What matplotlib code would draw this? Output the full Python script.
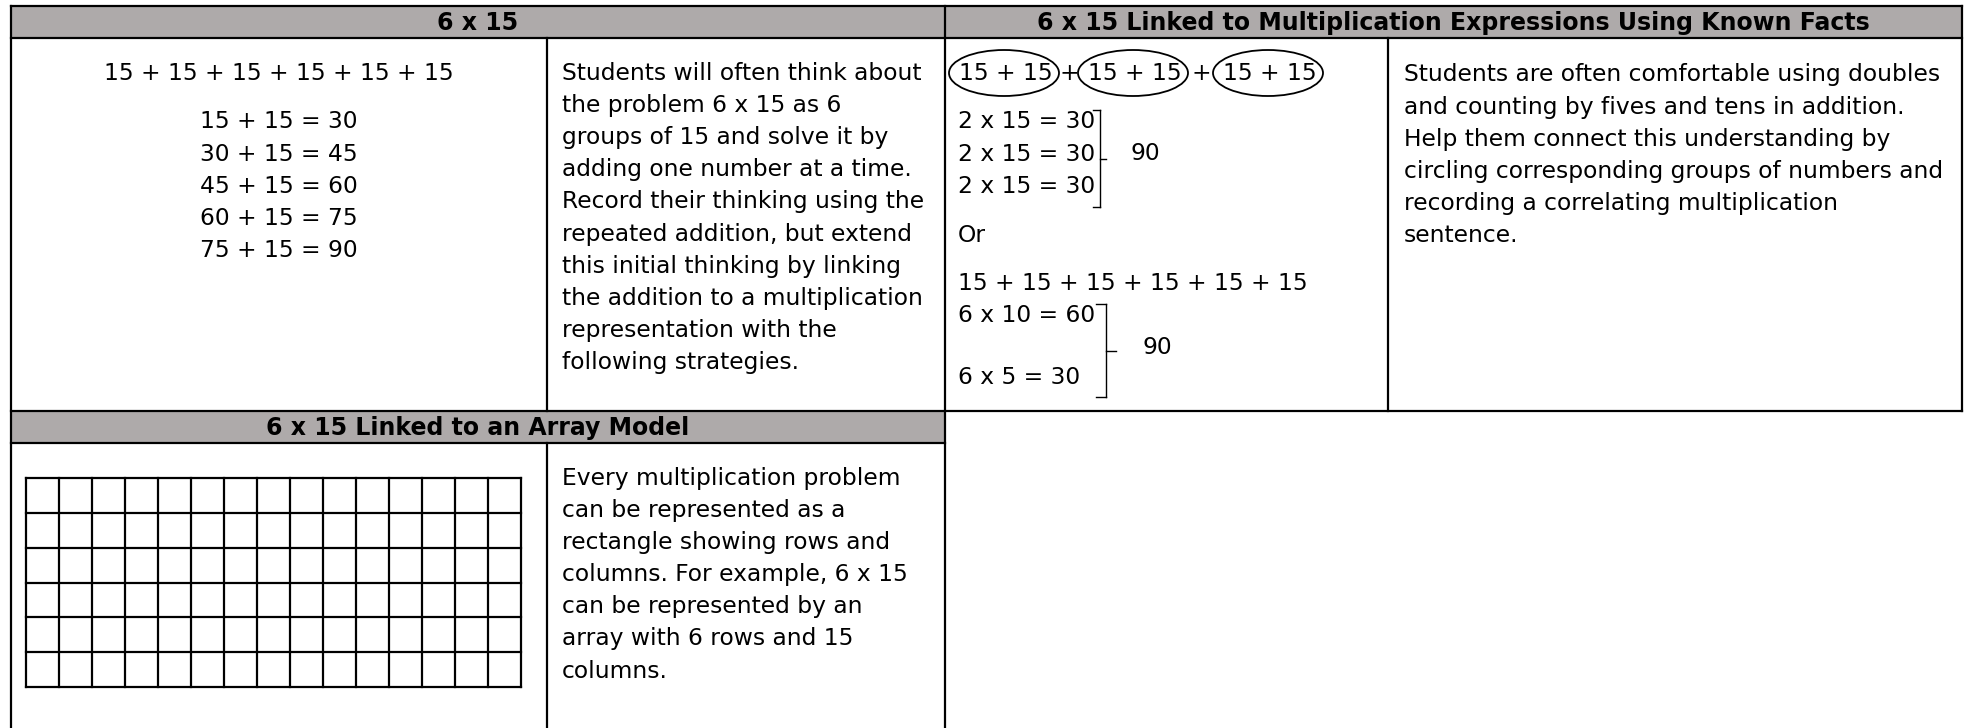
import matplotlib
matplotlib.use("Agg")
import matplotlib.pyplot as plt
from matplotlib.patches import Rectangle, Ellipse

# ---------------- data ----------------
header_left = "6 x 15"
header_right = "6 x 15 Linked to Multiplication Expressions Using Known Facts"
header_array = "6 x 15 Linked to an Array Model"

repeated_sum = "15 + 15 + 15 + 15 + 15 + 15"
addition_steps = ["15 + 15 = 30", "30 + 15 = 45", "45 + 15 = 60",
                  "60 + 15 = 75", "75 + 15 = 90"]

text_col2 = ["Students will often think about",
             "the problem 6 x 15 as 6",
             "groups of 15 and solve it by",
             "adding one number at a time.",
             "Record their thinking using the",
             "repeated addition, but extend",
             "this initial thinking by linking",
             "the addition to a multiplication",
             "representation with the",
             "following strategies."]

circled_groups = ["15 + 15", "15 + 15", "15 + 15"]
doubles_facts = ["2 x 15 = 30", "2 x 15 = 30", "2 x 15 = 30"]
doubles_total = "90"
or_word = "Or"
tens_fives_sum = "15 + 15 + 15 + 15 + 15 + 15"
tens_fives_facts = ["6 x 10 = 60", "6 x 5 = 30"]
tens_fives_total = "90"

text_col4 = ["Students are often comfortable using doubles",
             "and counting by fives and tens in addition.",
             "Help them connect this understanding by",
             "circling corresponding groups of numbers and",
             "recording a correlating multiplication",
             "sentence."]

array_rows = 6
array_cols = 15

text_array = ["Every multiplication problem",
              "can be represented as a",
              "rectangle showing rows and",
              "columns. For example, 6 x 15",
              "can be represented by an",
              "array with 6 rows and 15",
              "columns."]

# ---------------- layout ----------------
W, H = 1968, 728
fig = plt.figure(figsize=(W / 100, H / 100), dpi=100)
ax = fig.add_axes([0, 0, 1, 1])
ax.set_xlim(0, W)
ax.set_ylim(H, 0)
ax.axis("off")

FONT = "DejaVu Sans"
FS = 16.8
HFS = 17.0
LW = 1.6
GRAY = "#aeaaaa"
LINE_H = 32.2

x0, x1, xm, x3, xr = 11, 547, 945, 1388, 1962
y0, yh1, yb1, yh2 = 6, 38, 411, 443
ybot = H + 10

def line(xa, ya, xb, yb, lw=LW):
    ax.plot([xa, xb], [ya, yb], color="black", lw=lw, solid_capstyle="projecting")

# header backgrounds
ax.add_patch(Rectangle((x0, y0), xr - x0, yh1 - y0, facecolor=GRAY, edgecolor="none"))
ax.add_patch(Rectangle((x0, yb1), xm - x0, yh2 - yb1, facecolor=GRAY, edgecolor="none"))

# borders
line(x0, y0, xr, y0)
line(x0, yh1, xr, yh1)
line(x0, yb1, xr, yb1)
line(x0, yh2, xm, yh2)
line(x0, y0, x0, ybot)
line(xm, y0, xm, ybot)
line(xr, y0, xr, yb1)
line(x1, yh1, x1, yb1)
line(x1, yh2, x1, ybot)
line(x3, yh1, x3, yb1)

# headers
kw_h = dict(fontsize=HFS, fontweight="bold", family=FONT, va="center", ha="center")
ax.text((x0 + xm) / 2, (y0 + yh1) / 2 + 1, header_left, **kw_h)
ax.text((xm + xr) / 2, (y0 + yh1) / 2 + 1, header_right, **kw_h)
ax.text((x0 + xm) / 2, (yb1 + yh2) / 2 + 1, header_array, **kw_h)

kw = dict(fontsize=FS, family=FONT, va="center")

# column 1
cx1 = (x0 + x1) / 2
ax.text(cx1, 74, repeated_sum, ha="center", **kw)
for i, s in enumerate(addition_steps):
    ax.text(cx1, 122 + i * LINE_H, s, ha="center", **kw)

# column 2
for i, s in enumerate(text_col2):
    ax.text(562, 73 + i * LINE_H, s, ha="left", **kw)

# column 3 - circled groups
group_centers = [1006, 1135, 1270]
for i, (cx, s) in enumerate(zip(group_centers, circled_groups)):
    ax.text(cx, 73, s, ha="center", **kw)
    ax.add_patch(Ellipse((cx - 2, 73), 110, 46, fill=False, edgecolor="black", lw=1.3))
    if i < len(circled_groups) - 1:
        ax.text((cx + group_centers[i + 1]) / 2 - 1, 73, "+", ha="center", **kw)

tx = 958
for i, s in enumerate(doubles_facts):
    ax.text(tx, 122 + i * LINE_H, s, ha="left", **kw)
# bracket 1
bx, bt, bb = 1100, 110, 207
line(bx - 7, bt, bx, bt, lw=1.0)
line(bx, bt, bx, bb, lw=1.0)
line(bx - 7, bb, bx, bb, lw=1.0)
line(bx, (bt + bb) / 2, bx + 6, (bt + bb) / 2, lw=1.0)
ax.text(1130, 154, doubles_total, ha="left", **kw)

ax.text(tx, 235, or_word, ha="left", **kw)
ax.text(tx, 283, tens_fives_sum, ha="left", **kw)
ax.text(tx, 315, tens_fives_facts[0], ha="left", **kw)
ax.text(tx, 378, tens_fives_facts[1], ha="left", **kw)
# bracket 2
bx, bt, bb = 1106, 304, 397
line(bx - 10, bt, bx, bt, lw=1.0)
line(bx, bt, bx, bb, lw=1.0)
line(bx - 10, bb, bx, bb, lw=1.0)
line(bx, (bt + bb) / 2, bx + 10, (bt + bb) / 2, lw=1.0)
ax.text(1142, 347, tens_fives_total, ha="left", **kw)

# column 4
for i, s in enumerate(text_col4):
    ax.text(1404, 75 + i * LINE_H, s, ha="left", **kw)

# array grid
gx0, gx1, gy0, gy1 = 26, 521, 478, 687
cw = (gx1 - gx0) / array_cols
rh = (gy1 - gy0) / array_rows
for c in range(array_cols + 1):
    line(gx0 + c * cw, gy0, gx0 + c * cw, gy1)
for r in range(array_rows + 1):
    line(gx0, gy0 + r * rh, gx1, gy0 + r * rh)

for i, s in enumerate(text_array):
    ax.text(562, 478 + i * LINE_H, s, ha="left", **kw)

fig.savefig("out.png", dpi=100, facecolor="white")
